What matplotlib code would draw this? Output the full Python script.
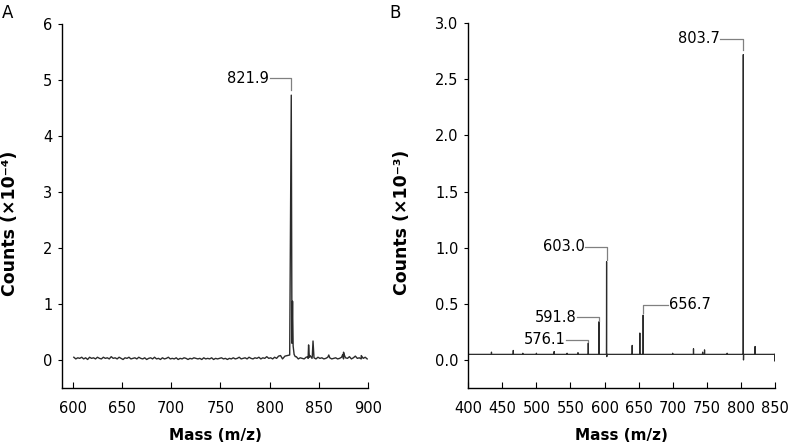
import numpy as np
import matplotlib
matplotlib.use("Agg")
import matplotlib.pyplot as plt

plt.rcParams['font.family'] = ['DejaVu Sans']

# ---- panel A : spectrum 600-900 m/z, counts x10^-4
noise_mz_a = np.arange(601, 901, 2)
noise_a = [0.05, 0.02, 0.04, 0.03, 0.05, 0.02, 0.04, 0.01, 0.05, 0.03,
           0.04, 0.02, 0.05, 0.03, 0.02, 0.05, 0.03, 0.04, 0.02, 0.06,
           0.03, 0.04, 0.02, 0.05, 0.03, 0.01, 0.04, 0.03, 0.05, 0.02,
           0.03, 0.04, 0.02, 0.05, 0.03, 0.02, 0.04, 0.01, 0.03, 0.04,
           0.02, 0.05, 0.02, 0.03, 0.01, 0.04, 0.02, 0.03, 0.05, 0.02,
           0.03, 0.02, 0.04, 0.01, 0.03, 0.02, 0.04, 0.03, 0.01, 0.03,
           0.02, 0.04, 0.03, 0.02, 0.03, 0.01, 0.04, 0.02, 0.03, 0.02,
           0.04, 0.01, 0.03, 0.02, 0.03, 0.04, 0.02, 0.03, 0.01, 0.03,
           0.02, 0.04, 0.02, 0.03, 0.05, 0.02, 0.03, 0.04, 0.02, 0.05,
           0.03, 0.02, 0.04, 0.03, 0.05, 0.02, 0.04, 0.03, 0.06, 0.03,
           0.04, 0.02, 0.05, 0.03, 0.07, 0.08, 0.02, 0.05, 0.03, 0.04,
           0.02, 0.05, 0.03, 0.06, 0.02, 0.04, 0.03, 0.02, 0.05, 0.03,
           0.08, 0.03, 0.04, 0.02, 0.05, 0.03, 0.04, 0.02, 0.03, 0.05,
           0.04, 0.02, 0.03, 0.04, 0.02, 0.03, 0.05, 0.02, 0.04, 0.03,
           0.06, 0.02, 0.04, 0.07, 0.03, 0.04, 0.02, 0.03, 0.05, 0.02]
peak_mz_a = [815.5, 820.3, 821.9, 822.6, 823.2, 823.8, 824.8, 826.0,
             838.8, 839.5, 840.3, 843.3, 844.0, 844.8,
             860.0, 874.2, 875.0, 875.8, 893.0]
peak_a = [0.07, 0.09, 4.73, 0.30, 1.05, 0.25, 0.10, 0.06,
          0.06, 0.27, 0.05, 0.08, 0.34, 0.07,
          0.09, 0.10, 0.14, 0.09, 0.08]

# ---- panel B : spectrum 400-850 m/z, counts x10^-3
base_b = 0.05
stick_mz_b = [434, 466, 480, 500, 526, 545, 561, 576.1, 591.8, 603.0,
              640.6, 651.8, 656.7, 700, 730.6, 744, 746.8, 780, 803.7, 821]
stick_b = [0.07, 0.085, 0.06, 0.06, 0.075, 0.06, 0.065, 0.15, 0.34, 0.875,
           0.13, 0.24, 0.40, 0.06, 0.10, 0.07, 0.09, 0.06, 2.72, 0.12]
dip_mz_b = [603.3, 804.0, 850.0]
dip_b = [0.03, 0.0, -0.01]

# annotations: label, peak m/z, label y, bottom of bracket, label x, side
labels_a = [("821.9", 821.9, 5.03, 4.82, 799.0, 'right')]
labels_b = [("803.7", 803.7, 2.86, 2.76, 769.0, 'right'),
            ("603.0", 603.0, 1.01, 0.89, 571.0, 'right'),
            ("591.8", 591.8, 0.38, 0.35, 559.0, 'right'),
            ("576.1", 576.1, 0.18, 0.16, 542.5, 'right'),
            ("656.7", 656.7, 0.49, 0.42, 694.0, 'left')]

line_col = '#2b2b2b'
ann_col = '#808080'


def spectrum_a():
    pts = [p for p in zip(noise_mz_a, noise_a) if not 814 < p[0] < 827]
    pts += list(zip(peak_mz_a, peak_a))
    pts.sort()
    return [p[0] for p in pts], [p[1] for p in pts]


def spectrum_b():
    pts = [(400, base_b)]
    for m, h in zip(stick_mz_b, stick_b):
        pts += [(m - 0.25, base_b), (m, h), (m + 0.25, base_b)]
    for m, h in zip(dip_mz_b, dip_b):
        pts += [(m - 0.2, base_b), (m, h), (m + 0.2, base_b)]
    pts.sort()
    return [p[0] for p in pts], [p[1] for p in pts]


def style(ax):
    for s in ['top', 'right']:
        ax.spines[s].set_visible(False)
    ax.spines['left'].set_linewidth(1.0)
    ax.spines['bottom'].set_linewidth(1.0)
    ax.tick_params(axis='y', direction='out', length=3, labelsize=10.5, pad=4)
    ax.tick_params(axis='x', direction='in', length=4, labelsize=10.5, pad=9)


def annotate(ax, items):
    for lab, xp, yl, ye, xt, ha in items:
        if ha == 'right':
            ax.plot([xt + 1.0, xp, xp], [yl, yl, ye], color=ann_col, lw=0.9)
        else:
            ax.plot([xt - 1.5, xp, xp], [yl, yl, ye], color=ann_col, lw=0.9)
        ax.text(xt, yl, lab, ha=ha, va='center', fontsize=10.5)


fig = plt.figure(figsize=(7.9, 4.45), dpi=100)

axA = fig.add_axes([0.0785, 0.128, 0.3875, 0.818])
xa, ya = spectrum_a()
axA.plot(xa, ya, color=line_col, lw=1.0)
axA.set_xlim(589, 900)
axA.set_ylim(-0.5, 6)
axA.set_xticks(np.arange(600, 901, 50))
axA.set_yticks(range(0, 7))
style(axA)
annotate(axA, labels_a)
axA.set_xlabel("Mass (m/z)", fontsize=11, fontweight='bold', labelpad=9)
axA.set_ylabel("Counts (×10⁻⁴)", fontsize=12.5, fontweight='bold')
axA.yaxis.set_label_coords(-0.14, 0.453)
fig.text(0.003, 0.99, "A", fontsize=12, va='top')

axB = fig.add_axes([0.5928, 0.128, 0.388, 0.820])
xb, yb = spectrum_b()
axB.plot(xb, yb, color=line_col, lw=0.9)
axB.set_xlim(400, 850)
axB.set_ylim(-0.25, 3.0)
axB.set_xticks(np.arange(400, 851, 50))
axB.set_yticks(np.arange(0, 3.01, 0.5))
axB.set_yticklabels([f"{v:.1f}" for v in np.arange(0, 3.01, 0.5)])
style(axB)
annotate(axB, labels_b)
axB.set_xlabel("Mass (m/z)", fontsize=11, fontweight='bold', labelpad=9)
axB.set_ylabel("Counts (×10⁻³)", fontsize=12.5, fontweight='bold')
axB.yaxis.set_label_coords(-0.187, 0.453)
fig.text(0.493, 0.99, "B", fontsize=12, va='top')

fig.savefig("out.png", dpi=100)
